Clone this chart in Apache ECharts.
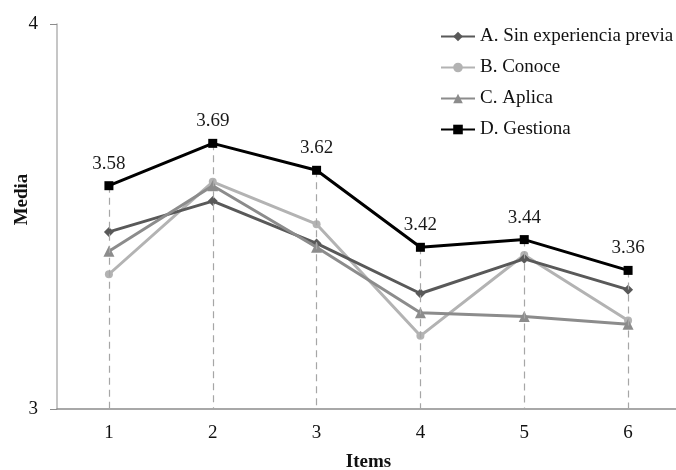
<!DOCTYPE html>
<html><head><meta charset="utf-8">
<script src="https://cdn.jsdelivr.net/npm/echarts@6/dist/echarts.min.js"></script>
<style>html,body{margin:0;padding:0;background:#fff}#c{width:676px;height:470px}</style>
</head><body><div id="c"></div>
<script>
var categories = ['1','2','3','4','5','6'];
var seriesA = [3.46, 3.54, 3.43, 3.30, 3.39, 3.31];
var seriesB = [3.35, 3.59, 3.48, 3.19, 3.40, 3.23];
var seriesC = [3.41, 3.58, 3.42, 3.25, 3.24, 3.22];
var seriesD = [3.58, 3.69, 3.62, 3.42, 3.44, 3.36];
var names = ['A. Sin experiencia previa', 'B. Conoce', 'C. Aplica', 'D. Gestiona'];
var yMin = 3, yMax = 4;

var font = 'Liberation Serif';
var chart = echarts.init(document.getElementById('c'));
var drop = seriesD.map(function (v, i) {
  return [{ coord: [i, v] }, { coord: [i, yMin] }];
});
function mk(name, data, color, symbol, size, z) {
  return {
    name: name, type: 'line', data: data, z: z,
    symbol: symbol, symbolSize: size,
    lineStyle: { color: color, width: 3 },
    itemStyle: { color: color },
    emphasis: { disabled: true }
  };
}
var sD = mk(names[3], seriesD, '#000000', 'rect', 9, 5);
sD.label = { show: true, position: 'top', distance: 8, fontFamily: font, fontSize: 19, color: '#1a1a1a',
  formatter: function (p) { return p.value.toFixed(2); } };
var option = {
  animation: false,
  backgroundColor: '#fff',
  grid: { left: 57, right: -4, top: 24, bottom: 61, outerBoundsMode: 'none', containLabel: false },
  legend: {
    orient: 'vertical', left: 435, top: 22, itemGap: 12, itemWidth: 34, itemHeight: 12,
    textStyle: { fontFamily: font, fontSize: 19, lineHeight: 19, color: '#111' },
    data: names
  },
  xAxis: {
    type: 'category', data: categories, boundaryGap: true,
    name: 'Items', nameLocation: 'middle', nameGap: 44, nameMoveOverlap: false,
    nameTextStyle: { fontFamily: font, fontSize: 19, fontWeight: 'bold', color: '#111' },
    axisLine: { lineStyle: { color: '#8c8c8c', width: 1.5 } },
    axisTick: { show: false },
    axisLabel: { fontFamily: font, fontSize: 19, color: '#111', margin: 15 },
    splitLine: { show: false }
  },
  yAxis: {
    type: 'value', min: yMin, max: yMax, interval: 1,
    name: 'Media', nameLocation: 'middle', nameGap: 25, nameRotate: 90, nameMoveOverlap: false,
    nameTextStyle: { fontFamily: font, fontSize: 19, fontWeight: 'bold', color: '#111', padding: [0, 0, 0, 34] },
    axisLine: { show: true, lineStyle: { color: '#b3b3b3', width: 1.5 } },
    axisTick: { show: true, length: 7, lineStyle: { color: '#8c8c8c' } },
    axisLabel: { fontFamily: font, fontSize: 19, color: '#111', margin: 19 },
    splitLine: { show: false }
  },
  series: [
    { name: 'drop', type: 'line', data: [], z: 1, silent: true,
      markLine: { silent: true, symbol: 'none', label: { show: false },
        lineStyle: { color: '#a6a6a6', type: [7, 5], width: 1.2 },
        emphasis: { disabled: true },
        data: drop } },
    mk(names[0], seriesA, '#595959', 'diamond', 10, 3),
    mk(names[1], seriesB, '#b3b3b3', 'circle', 8, 2),
    mk(names[2], seriesC, '#8c8c8c', 'triangle', 11, 4),
    sD
  ]
};
chart.setOption(option);
</script>
</body></html>
